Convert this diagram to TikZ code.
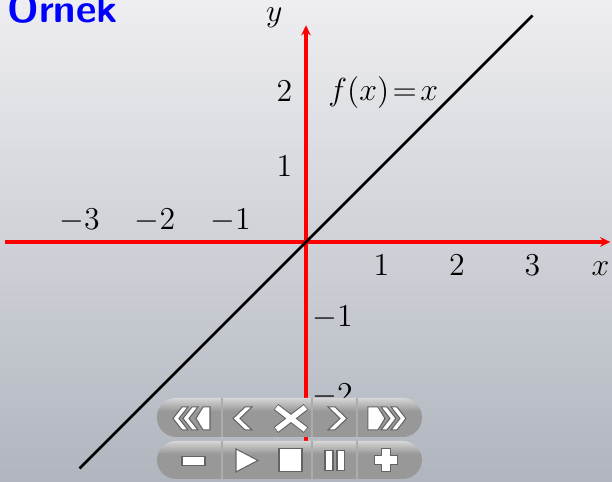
\documentclass[tikz,border=0pt]{standalone}
\usetikzlibrary{arrows.meta}
\definecolor{bgtop}{RGB}{238,238,241}
\definecolor{bgbottom}{RGB}{176,181,190}
\definecolor{navdark}{RGB}{152,152,152}
\definecolor{navlight}{RGB}{214,214,214}
\definecolor{navedge}{RGB}{100,100,100}
\definecolor{navsep}{RGB}{172,172,172}
\pgfdeclareverticalshading{navshade}{100bp}{color(0bp)=(navdark); color(58bp)=(navdark); color(75bp)=(navlight); color(100bp)=(navlight)}
% chevrons of the navigation bar, in pixel units: tip x, width, thickness
\newcommand{\chevleft}[3]{\path[navbox] (#1,418.5) -- ++(#2,-11.5) -- ++(#3,0) -- (#1+#3,418.5) -- (#1+#2+#3,430) -- ++(-#3,0) -- cycle;}
\newcommand{\chevright}[3]{\path[navbox] (#1,418.5) -- ++(-#2,-11.5) -- ++(-#3,0) -- (#1-#3,418.5) -- (#1-#2-#3,430) -- ++(#3,0) -- cycle;}

\begin{document}
\begin{tikzpicture}[
		axis/.style={draw=red, line width=1.3pt, -{Stealth[length=3.8pt,width=3.6pt,inset=1.2pt]}},
		graphline/.style={draw=black, line width=1pt},
		lbl/.style={font=\fontsize{11.7}{14}\selectfont, inner sep=0pt},
		navbar/.style={shading=navshade, rounded corners=7.2pt},
		navsepline/.style={draw=navsep, line width=0.5pt},
		navbox/.style={fill=white, draw=navedge, line width=0.4pt},
		navcross/.style={line width=#1, line cap=butt}
		]
		
		\coordinate (sw) at (-4.053, -3.179);
		\coordinate (ne) at (4.053, 3.205);
		\useasboundingbox (sw) rectangle (ne);
		\clip (sw) rectangle (ne);
		\shade[top color=bgtop, bottom color=bgbottom] (sw) rectangle (ne);
		
		\node[anchor=base west, inner sep=0pt, text=blue, font=\fontsize{15}{18}\selectfont\sffamily\bfseries] (title) at (-3.96, 2.91) {Örnek};
		
		% axes and the graph
		\coordinate (xmin) at (-3.99, 0);
		\coordinate (xmax) at (4.03, 0);
		\coordinate (ymin) at (0, -3.1);
		\coordinate (ymax) at (0, 2.87);
		\coordinate (lstart) at (-3, -3);
		\coordinate (lend) at (3, 3);
		
		\draw[axis] (xmin) -- (xmax);
		\draw[axis] (ymin) -- (ymax);
		\draw[graphline] (lstart) -- (lend);
		
		\node[lbl, anchor=base] (xm3) at (-3, 0.16) {$-3$};
		\node[lbl, anchor=base] (xm2) at (-2, 0.16) {$-2$};
		\node[lbl, anchor=base] (xm1) at (-1, 0.16) {$-1$};
		\node[lbl, anchor=base] (xp1) at (1, -0.45) {$1$};
		\node[lbl, anchor=base] (xp2) at (2, -0.45) {$2$};
		\node[lbl, anchor=base] (xp3) at (3, -0.45) {$3$};
		\node[lbl, anchor=base] (xlbl) at (3.9, -0.45) {$x$};
		
		\node[lbl] (yp2) at (-0.285, 2.0) {$2$};
		\node[lbl] (yp1) at (-0.285, 1.0) {$1$};
		\node[lbl] (ym1) at (0.35, -1.0) {$-1$};
		\node[lbl] (ym2) at (0.35, -2.03) {$-2$};
		\node[lbl, anchor=base] (ylbl) at (-0.42, 2.92) {$y$};
		
		\node[lbl, anchor=base west] (fx) at (0.29, 1.88) {$f(x)\!=\!x$};
		
		% navigation symbols (pixel units)
		\begin{scope}[shift={(-4.053, 3.205)}, x=0.013245cm, y=-0.013245cm]
			\path[navbar] (157, 398) rectangle (422, 437);
			\path[navbar] (157, 441) rectangle (422, 479);
			\draw[navsepline] (222, 398) -- (222, 437) (312, 398) -- (312, 437) (357, 398) -- (357, 437);
			\draw[navsepline] (222, 441) -- (222, 479) (312, 441) -- (312, 479) (357, 441) -- (357, 479);
			
			\chevleft{173}{9}{6}
			\chevleft{183}{9}{6}
			\path[navbox] (196, 418.5) -- (203, 407) -- (210, 407) -- (210, 430) -- (203, 430) -- cycle;
			\chevleft{233}{12}{7}
			\draw[navcross=2.8pt, navedge] (276, 407) -- (306, 430) (276, 430) -- (306, 407);
			\draw[navcross=2pt, white] (276.6, 407.4) -- (305.4, 429.6) (276.6, 429.6) -- (305.4, 407.4);
			\chevright{347}{12}{7}
			\path[navbox] (368, 407) -- (378, 407) -- (385, 418.5) -- (378, 430) -- (368, 430) -- cycle;
			\chevright{396}{9}{6}
			\chevright{406}{9}{6}
			
			\path[navbox] (182, 457) rectangle (205, 466);
			\path[navbox] (236, 449) -- (258, 460.5) -- (236, 472) -- cycle;
			\path[navbox] (279, 449) rectangle (302, 472);
			\path[navbox] (325, 451) rectangle (333, 471);
			\path[navbox] (337, 451) rectangle (345, 471);
			\path[navbox] (382, 449) -- (391, 449) -- (391, 456) -- (398, 456) -- (398, 465) -- (391, 465) -- (391, 472) -- (382, 472) -- (382, 465) -- (375, 465) -- (375, 456) -- (382, 456) -- cycle;
		\end{scope}
		
	\end{tikzpicture}
\end{document}
